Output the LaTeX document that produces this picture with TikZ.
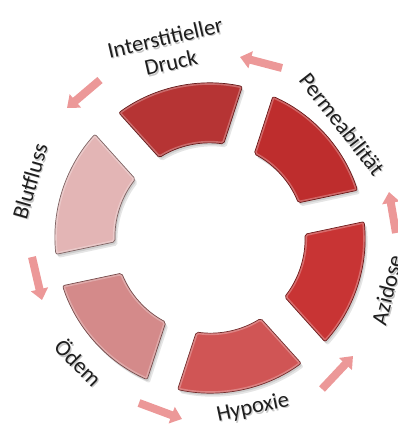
\documentclass[tikz,border=0pt]{standalone}
\usepackage{fontspec}
\setmainfont{Carlito}
\usetikzlibrary{arrows.meta,calc}

\definecolor{segA}{RGB}{182,52,52}
\definecolor{segB}{RGB}{190,45,45}
\definecolor{segC}{RGB}{200,52,52}
\definecolor{segD}{RGB}{208,85,85}
\definecolor{segE}{RGB}{212,138,138}
\definecolor{segF}{RGB}{227,181,181}
\definecolor{arrowpink}{RGB}{236,152,152}
\definecolor{labelgray}{RGB}{30,30,30}

% one ring segment centred on angle #1, with parallel-sided gaps
\newcommand\ringseg[1]{%
  (#1+30-5.93:155pt) arc[start angle=#1+30-5.93, end angle=#1-30+5.93, radius=155pt]
  -- (#1-30+9.70:95pt) arc[start angle=#1-30+9.70, end angle=#1+30-9.70, radius=95pt]
  -- cycle}

\newcommand\drawseg[2]{%
  \fill[black,opacity=.10,rounded corners=2pt,shift={(2.5pt,-3.5pt)}] \ringseg{#1};
  \fill[black,opacity=.10,rounded corners=2pt,shift={(1.2pt,-2pt)}] \ringseg{#1};
  \fill[#2,rounded corners=2pt] \ringseg{#1};
  \begin{scope}
    \clip[rounded corners=2pt] \ringseg{#1};
    \draw[white,opacity=.28,line width=4pt,rounded corners=2pt] \ringseg{#1};
  \end{scope}
  \draw[#2!55!black,line width=.7pt,rounded corners=2pt] \ringseg{#1};
}

\tikzset{
  lbl/.style={font=\fontsize{22.5}{25.5}\selectfont, text=labelgray, align=center, inner sep=0pt},
  lblsh/.style={lbl, text=black, opacity=.22},
  cyclearrow/.style={draw=arrowpink, line width=8pt,
    -{Triangle[length=11pt,width=17pt]}, shorten >=0pt}
}

\begin{document}
\begin{tikzpicture}[x=1pt,y=1pt]
\useasboundingbox (0,0) rectangle (398,-432);

% ring of six segments around the centre
\begin{scope}[shift={(210pt,-238pt)}]
  \drawseg{102}{segA}
  \drawseg{42}{segB}
  \drawseg{-18}{segC}
  \drawseg{-78}{segD}
  \drawseg{-138}{segE}
  \drawseg{162}{segF}
\end{scope}

% label shadows
\node[lblsh, rotate=13]  (druck-sh) at (169.2,-51.5) {Interstitieller\\Druck};
\node[lblsh, rotate=-52] (perm-sh)  at (343.2,-125.5) {Permeabilität};
\node[lblsh, rotate=76]  (azid-sh)  at (388.2,-291.5) {Azidose};
\node[lblsh, rotate=12]  (hyp-sh)   at (254.2,-409.5) {Hypoxie};
\node[lblsh, rotate=-45] (odem-sh)  at (80.2,-363.5) {Ödem};
\node[lblsh, rotate=74]  (blut-sh)  at (31.2,-182.5) {Blutfluss};

% labels
\node[lbl, rotate=13]  (druck) at (168,-50) {Interstitieller\\Druck};
\node[lbl, rotate=-52] (perm)  at (342,-124) {Permeabilität};
\node[lbl, rotate=76]  (azid)  at (387,-290) {Azidose};
\node[lbl, rotate=12]  (hyp)   at (253,-408) {Hypoxie};
\node[lbl, rotate=-45] (odem)  at (79,-362) {Ödem};
\node[lbl, rotate=74]  (blut)  at (30,-181) {Blutfluss};

% arrow ends between the labels
\coordinate (pd1) at (282,-68);  \coordinate (pd2) at (240,-57);
\coordinate (db1) at (100,-80);  \coordinate (db2) at (67,-108);
\coordinate (bo1) at (32,-257);  \coordinate (bo2) at (42,-300);
\coordinate (oh1) at (139,-403); \coordinate (oh2) at (182,-419);
\coordinate (ha1) at (322,-389); \coordinate (ha2) at (353,-356);
\coordinate (ap1) at (396,-233); \coordinate (ap2) at (389,-192);

\draw[cyclearrow] (pd1) -- (pd2);
\draw[cyclearrow] (db1) -- (db2);
\draw[cyclearrow] (bo1) -- (bo2);
\draw[cyclearrow] (oh1) -- (oh2);
\draw[cyclearrow] (ha1) -- (ha2);
\draw[cyclearrow] (ap1) -- (ap2);
\end{tikzpicture}
\end{document}
